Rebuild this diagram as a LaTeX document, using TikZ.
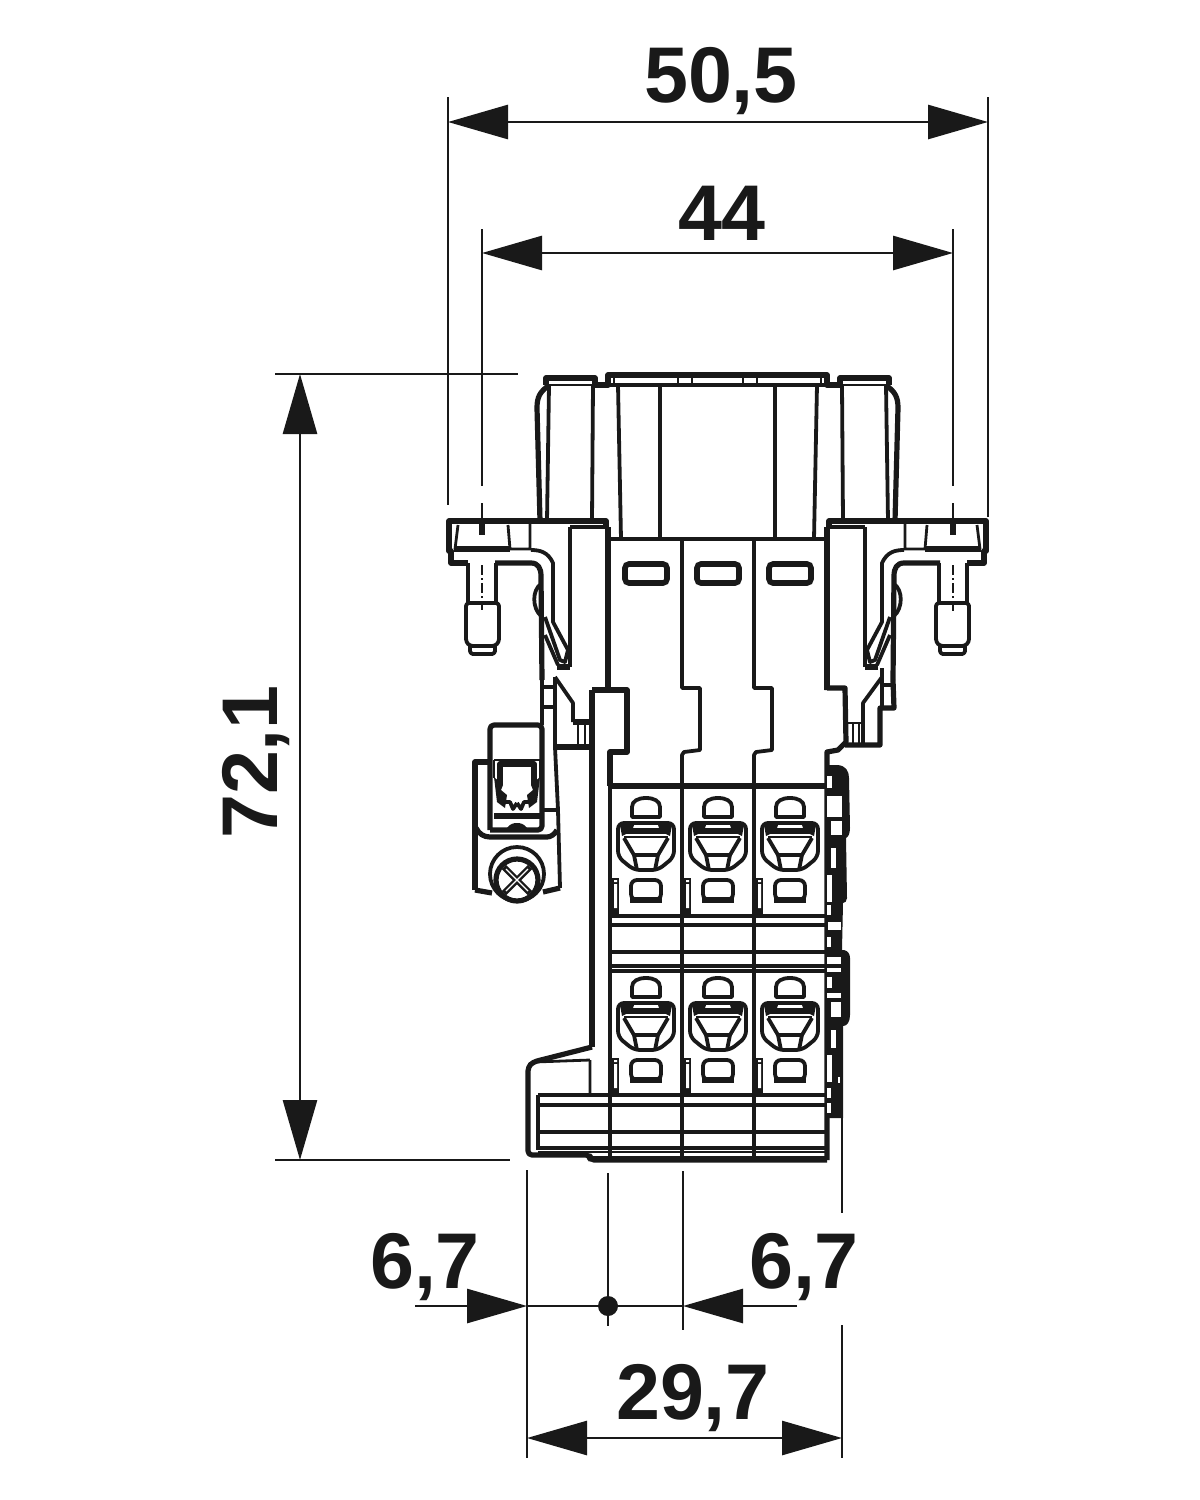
\documentclass[tikz,border=0pt]{standalone}
\usepackage{fontspec}
\setmainfont{Liberation Sans}
\usetikzlibrary{arrows.meta}

\tikzset{
    >={Triangle[length=30pt,width=17pt]},
    dimline/.style={line width=1.4pt,black!90},
    dimtext/.style={font=\fontsize{39.5}{40}\selectfont\bfseries,inner sep=0pt,anchor=base,text=black!90},
    heavy/.style={line width=2.6pt,line join=round,black!90},
    mid/.style={line width=1.9pt,line join=round,black!90},
    light/.style={line width=1.4pt,line join=round,black!90},
    shellhalf/.pic={
        % cap and top plate
        \draw[heavy] (546,385) -- (546,378) -- (595,378) -- (595,385) -- (608,385) -- (608,375) -- (717.5,375);
        \draw[light] (548,385) -- (595,385);
        \draw[mid] (608,385) -- (717.5,385);
        \draw[light] (614,378) -- (614,385) (678,377) -- (678,385) (692,377) -- (692,385);
        % housing
        \draw[heavy] (548,386) .. controls (540,392) and (537,397) .. (537,408) -- (540,521);
        \draw[mid] (549,385) -- (547,521) (593,385) -- (592,521);
        \draw[mid] (618,385) -- (621,539) (660,385) -- (660,539);
        \draw[mid] (608,539) -- (717.5,539);
        % flange
        \draw[heavy] (606,527) -- (606,521) -- (449,521) -- (449,551) -- (451,551) -- (451,563) -- (468,563);
        \draw[heavy] (495,563) -- (531,563) .. controls (538,563) and (541,568) .. (541,576) -- (542,680);
        \draw[line width=3pt,black!90] (454,549) -- (510,549);
        \draw[light] (510,549) -- (531,549) (458,525) -- (455,549) (508,525) -- (510,549) (530,521) -- (530,549);
        \draw[line width=2.8pt,black!90] (482,524) -- (482,535);
        % pin
        \draw[mid] (468,563) -- (468,603) (496,563) -- (496,603);
        \draw[mid,rounded corners=1.5] (466,603) -- (499,603) -- (499,642) -- (495,646) -- (470,646) -- (466,642) -- cycle;
        \draw[mid,rounded corners=1.5] (470,646) -- (470,654) -- (495,654) -- (495,646);
        % spring
        \draw[mid] (531,550) .. controls (540,550) and (548,552) .. (553,563) -- (553,622) -- (568,650) -- (565,662) -- (560,660) -- (545,617);
        \draw[mid] (541,584) .. controls (532,590) and (532,608) .. (541,616);
        \draw[mid] (545,635) -- (558,665);
        \draw[heavy] (557,667) -- (570,667);
        \draw[mid] (570,527) -- (570,667) (570,527) -- (606,527);
        \draw[heavy] (608,527) -- (608,690);
    },
    jawhalf/.pic={
        \draw[heavy] (500,785) -- (500,764) -- (517,764);
        \draw[light] (494,760) -- (517,760) (494,760) -- (494,778);
        \fill[black!90] (494,777) -- (503,785) -- (501,790) -- (507,795) -- (505,808) -- (497,802) -- cycle;
        \draw[mid] (505,802) -- (510,802) -- (513,809) -- (517,803);
        \draw[heavy] (494,816) -- (517,816);
        \fill[black!90] (507,828) .. controls (510,824) and (513,823) .. (517,823) -- (517,828) -- cycle;
    },
    clampcell/.pic={
        \draw[mid] (-14,817) -- (-14,807) .. controls (-14,801) and (-8,798) .. (0,798) .. controls (8,798) and (14,801) .. (14,807) -- (14,817) -- cycle;
        \draw[mid,rounded corners=3] (-28,823) -- (28,823) -- (28,857) -- (12,870) -- (-12,870) -- (-28,857) -- cycle;
        \draw[heavy] (-24,831) -- (24,831);
        \draw[light] (-22,837) -- (22,837);
        \fill[black!90] (-26,825) -- (-12,825) -- (-14,831) -- (-24,836) -- cycle;
        \fill[black!90] (26,825) -- (12,825) -- (14,831) -- (24,836) -- cycle;
        \draw[mid] (-22,838) -- (-12,855) -- (12,855) -- (22,838);
        \draw[mid] (-12,855) -- (-9,870) (12,855) -- (9,870);
        \draw[mid,rounded corners=3] (-15,900) -- (-15,880) -- (15,880) -- (15,900) -- cycle;
        \fill[black!90] (-16,897) rectangle (16,903);
        \fill[black!90] (-37,878) rectangle (-27,915);
        \fill[white] (-32,884) rectangle (-29,908) (-32,880) rectangle (-29,882);
    }
}

\begin{document}
\begin{tikzpicture}[x=0.5pt,y=-0.5pt]
    \useasboundingbox (0,0) rectangle (1200,1500);

    % upper part, two mirrored halves
    \pic at (0,0) {shellhalf};
    \pic[xscale=-1] at (1435,0) {shellhalf};

    % windows and column profiles
    \foreach \wx in {625,697,769}
        \draw[line width=2.8pt,black!90,rounded corners=2] (\wx,564) rectangle ++(42,19);
    \foreach \cx in {682,754}
        \draw[mid] (\cx,539) -- (\cx,688) -- (\cx+18,688) -- (\cx+18,750) -- (\cx+2,752) -- (\cx,755) -- (\cx,1160);

    % left block
    \draw[line width=2.8pt,black!90] (592,690) -- (592,1047);
    \draw[heavy] (592,690) -- (627,690) -- (627,752) -- (610,752) -- (610,786);
    \draw[mid] (610,786) -- (610,1160);
    \draw[mid] (542,680) -- (542,725) (555,677) -- (555,747) -- (558,810) -- (560,888);
    \draw[mid] (542,687) -- (555,687) (542,707) -- (555,707);
    \draw[mid] (555,677) -- (573,703) -- (573,722);
    \draw[heavy] (573,722) -- (590,722) (557,747) -- (590,747);
    \draw[light] (578,722) -- (578,747) (585,722) -- (585,747);

    % right block
    \draw[heavy] (827,690) -- (827,688) -- (845,688) -- (846,742) -- (838,750) -- (827,752) -- (827,1160);
    \draw[heavy] (845,745) -- (880,745) -- (880,708) -- (894,708) -- (893,680);
    \draw[mid] (863,745) -- (863,703) -- (882,677) (882,668) -- (882,708) (882,685) -- (893,685);
    \draw[light] (845,723) -- (863,723) (853,723) -- (853,745) (859,723) -- (859,745);

    % rows of cells
    \draw[line width=3pt,black!90] (610,786) -- (827,786);
    \foreach \ry in {916,925,952,966,971}
        \draw[mid] (610,\ry) -- (827,\ry);
    \foreach \cx in {646,718,790}
        \foreach \ry in {0,180}
            \pic at (\cx,\ry) {clampcell};

    % base
    \draw[heavy,rounded corners=2] (592,1047) -- (533,1062) -- (528,1067) -- (528,1155) -- (590,1155) -- (590,1160) -- (827,1160);
    \draw[light] (590,1060) -- (590,1095) (535,1062) -- (590,1060);
    \foreach \ry in {1095,1105,1132,1148}
        \draw[mid] (538,\ry) -- (827,\ry);
    \draw[light] (538,1152) -- (827,1152) (592,1157) -- (827,1157);
    \draw[mid] (538,1095) -- (538,1150);

    % right strip
    \fill[black!90] (825,765) -- (838,765) .. controls (846,766) and (849,771) .. (849,778) -- (850,828) .. controls (850,834) and (848,837) .. (846,838) -- (847,898) .. controls (847,901) and (845,903) .. (843,903) -- (842,950) -- (844,950) .. controls (848,951) and (850,954) .. (850,958) -- (850,1015) .. controls (850,1022) and (847,1026) .. (843,1026) -- (843,1118) -- (825,1118) -- cycle;
    \foreach \xa/\ya/\xb/\yb in {827/776/832/788,827/796/842/817,831/821/842/835,831/848/836/868,827/875/832/902,
        827/905/831/915,828/922/841/930,827/937/831/947,827/957/841/964,827/968/841/972,827/977/832/988,827/993/841/998,
        831/1002/841/1017,831/1030/836/1048,827/1055/832/1082,827/1088/831/1098,827/1103/831/1113,838/1077/840/1083}
        \fill[white] (\xa,\ya) rectangle (\xb,\yb);

    % side terminal
    \draw[heavy,rounded corners=2] (490,830) -- (490,725) -- (542,725) -- (542,830) -- (490,830);
    \draw[heavy] (475,890) -- (475,762) -- (490,762);
    \pic at (0,0) {jawhalf};
    \pic[xscale=-1] at (1034,0) {jawhalf};
    \draw[heavy] (476,828) .. controls (479,834) and (484,837) .. (490,837) -- (547,837) .. controls (551,837) and (555,834) .. (557,830);
    \draw[mid] (542,810) -- (558,810);
    \draw[heavy] (475,890) -- (492,893) (560,888) -- (543,892);
    \draw[mid,fill=white] (517,874) circle [radius=27];
    \draw[heavy,fill=white] (517,880) circle [radius=21];
    \draw[line width=3pt,black!90] (504,867) -- (530,893) (530,867) -- (504,893);
    \draw[white,line width=0.6pt] (506,869) -- (528,891) (528,869) -- (506,891);

    % dimensions
    \coordinate (wideL) at (448,122);
    \coordinate (wideR) at (988,122);
    \coordinate (pitchL) at (482,253);
    \coordinate (pitchR) at (953,253);
    \coordinate (highT) at (300,374);
    \coordinate (highB) at (300,1160);
    \coordinate (baseL) at (527,1306);
    \coordinate (baseM) at (608,1306);
    \coordinate (baseR) at (683,1306);
    \coordinate (baseE) at (842,1438);
    \coordinate (baseS) at (527,1438);
    \coordinate (stubL) at (415,1306);
    \coordinate (stubR) at (797,1306);

    \draw[dimline] (448,97) -- (448,505) (988,97) -- (988,517);
    \draw[dimline] (482,229) -- (482,486) (482,503) -- (482,524) (953,229) -- (953,486) (953,503) -- (953,524);
    \draw[dimline,dash pattern=on 5pt off 1.5pt on 1pt off 1.5pt] (482,565) -- (482,610) (953,565) -- (953,612);
    \draw[dimline] (275,374) -- (518,374) (275,1160) -- (510,1160);
    \draw[dimline] (527,1170) -- (527,1458) (608,1173) -- (608,1326) (683,1171) -- (683,1330);
    \draw[dimline] (842,1118) -- (842,1213) (842,1325) -- (842,1458);

    \draw[dimline,<->] (wideL) -- (wideR);
    \draw[dimline,<->] (pitchL) -- (pitchR);
    \draw[dimline,<->] (highT) -- (highB);
    \draw[dimline,<->] (baseS) -- (baseE);
    \draw[dimline,->] (stubL) -- (baseL);
    \draw[dimline,->] (stubR) -- (baseR);
    \draw[dimline] (baseL) -- (baseR);
    \fill[black!90] (baseM) circle [radius=10];

    \node[dimtext] (wideT) at (721,102) {50,5};
    \node[dimtext] (pitchT) at (722,240) {44};
    \node[dimtext,rotate=90] (highH) at (277,762) {72,1};
    \node[dimtext] (stubLT) at (425,1288) {6,7};
    \node[dimtext] (stubRT) at (804,1288) {6,7};
    \node[dimtext] (baseT) at (693,1419) {29,7};
\end{tikzpicture}
\end{document}
